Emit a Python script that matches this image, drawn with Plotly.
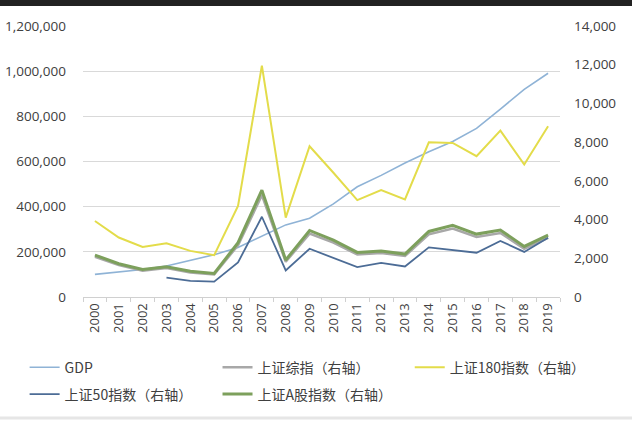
import plotly.graph_objects as go

years = [str(y) for y in range(2000, 2020)]

# GDP (left axis, 亿元)
gdp = [100280, 110863, 121717, 137422, 161840, 187319, 219439, 270092, 319245, 348518,
       412119, 487940, 538580, 592963, 643563, 688858, 746395, 832036, 919281, 990865]

# index year-end values (right axis)
sh_comp = [2073, 1646, 1358, 1497, 1267, 1161, 2675, 5262, 1821, 3277,
           2808, 2199, 2269, 2116, 3235, 3539, 3104, 3307, 2494, 3050]
sh_180 = [3927, 3073, 2589, 2779, 2383, 2162, 4699, 11950, 4102, 7788,
          6418, 5008, 5523, 5044, 7993, 7962, 7273, 8595, 6845, 8817]
sh_50 = [None, None, None, 1000, 838, 796, 1785, 4146, 1372, 2491,
         2020, 1544, 1762, 1575, 2563, 2440, 2287, 2896, 2330, 3063]
sh_a = [2166, 1721, 1420, 1566, 1326, 1216, 2804, 5521, 1911, 3437,
        2941, 2303, 2376, 2216, 3387, 3706, 3250, 3463, 2611, 3195]

names = ['GDP', '上证综指（右轴）', '上证180指数（右轴）', '上证50指数（右轴）', '上证A股指数（右轴）']

fig = go.Figure()

fig.add_trace(go.Scatter(x=years, y=gdp, name=names[0], mode='lines',
                         line=dict(color='#8FB3D6', width=1.6), legend='legend'))
fig.add_trace(go.Scatter(x=years, y=sh_comp, name=names[1], mode='lines', yaxis='y2',
                         line=dict(color='#A8A8A8', width=2.5), legend='legend2'))
fig.add_trace(go.Scatter(x=years, y=sh_180, name=names[2], mode='lines', yaxis='y2',
                         line=dict(color='#E3DC4A', width=2), legend='legend3'))
fig.add_trace(go.Scatter(x=years, y=sh_50, name=names[3], mode='lines', yaxis='y2',
                         line=dict(color='#4C6C96', width=1.8), legend='legend4'))
fig.add_trace(go.Scatter(x=years, y=sh_a, name=names[4], mode='lines', yaxis='y2',
                         line=dict(color='#7DA05C', width=3), legend='legend5'))

tick_font = dict(family='Open Sans, Noto Sans, sans-serif', size=13.5, color='#404040')
legend_font = dict(family='Noto Sans CJK SC, Open Sans, sans-serif', size=14, color='#404040')


def legend_at(x, y):
    return dict(orientation='h', x=x, y=y, xanchor='left', yanchor='top',
                font=legend_font, bgcolor='rgba(0,0,0,0)')


row1, row2 = -0.197, -0.296
col1, col2, col3 = -0.1224, 0.282, 0.685

fig.update_layout(
    width=632, height=421,
    margin=dict(l=83, r=72, t=26, b=123),
    paper_bgcolor='white', plot_bgcolor='white',
    showlegend=True,
    xaxis=dict(type='category', tickangle=-90,
               tickfont=dict(family='Open Sans, sans-serif', size=13, color='#404040'),
               showline=True, linecolor='#D0D0D0', ticks='outside', tickson='boundaries',
               ticklen=4, tickcolor='#D0D0D0', showgrid=False, range=[-0.5, 19.5],
               automargin=False),
    yaxis=dict(range=[0, 1200000], dtick=200000, tickformat=',', tickfont=tick_font,
               gridcolor='#D9D9D9', gridwidth=1, zeroline=False, showline=False, ticks='',
               ticklabelstandoff=16, automargin=False),
    yaxis2=dict(range=[0, 14000], dtick=2000, tickformat=',', tickfont=tick_font,
                overlaying='y', side='right', showgrid=False, zeroline=False, ticks='',
                ticklabelstandoff=13, automargin=False),
    legend=legend_at(col1, row1),
    legend2=legend_at(col2, row1),
    legend3=legend_at(col3, row1),
    legend4=legend_at(col1, row2),
    legend5=legend_at(col2, row2),
    shapes=[
        dict(type='rect', xref='paper', yref='paper', x0=-0.2, x1=1.2,
             y0=1 + 20 / 272, y1=1 + 27 / 272, fillcolor='#222222', line_width=0, layer='above'),
        dict(type='rect', xref='paper', yref='paper', x0=-0.2, x1=1.2,
             y0=-123 / 272, y1=-120 / 272, fillcolor='#E6E6E6', line_width=0, layer='above'),
    ],
)

fig.write_html('out.html', config={'displayModeBar': False},
               post_script="document.body.style.margin='0';")
